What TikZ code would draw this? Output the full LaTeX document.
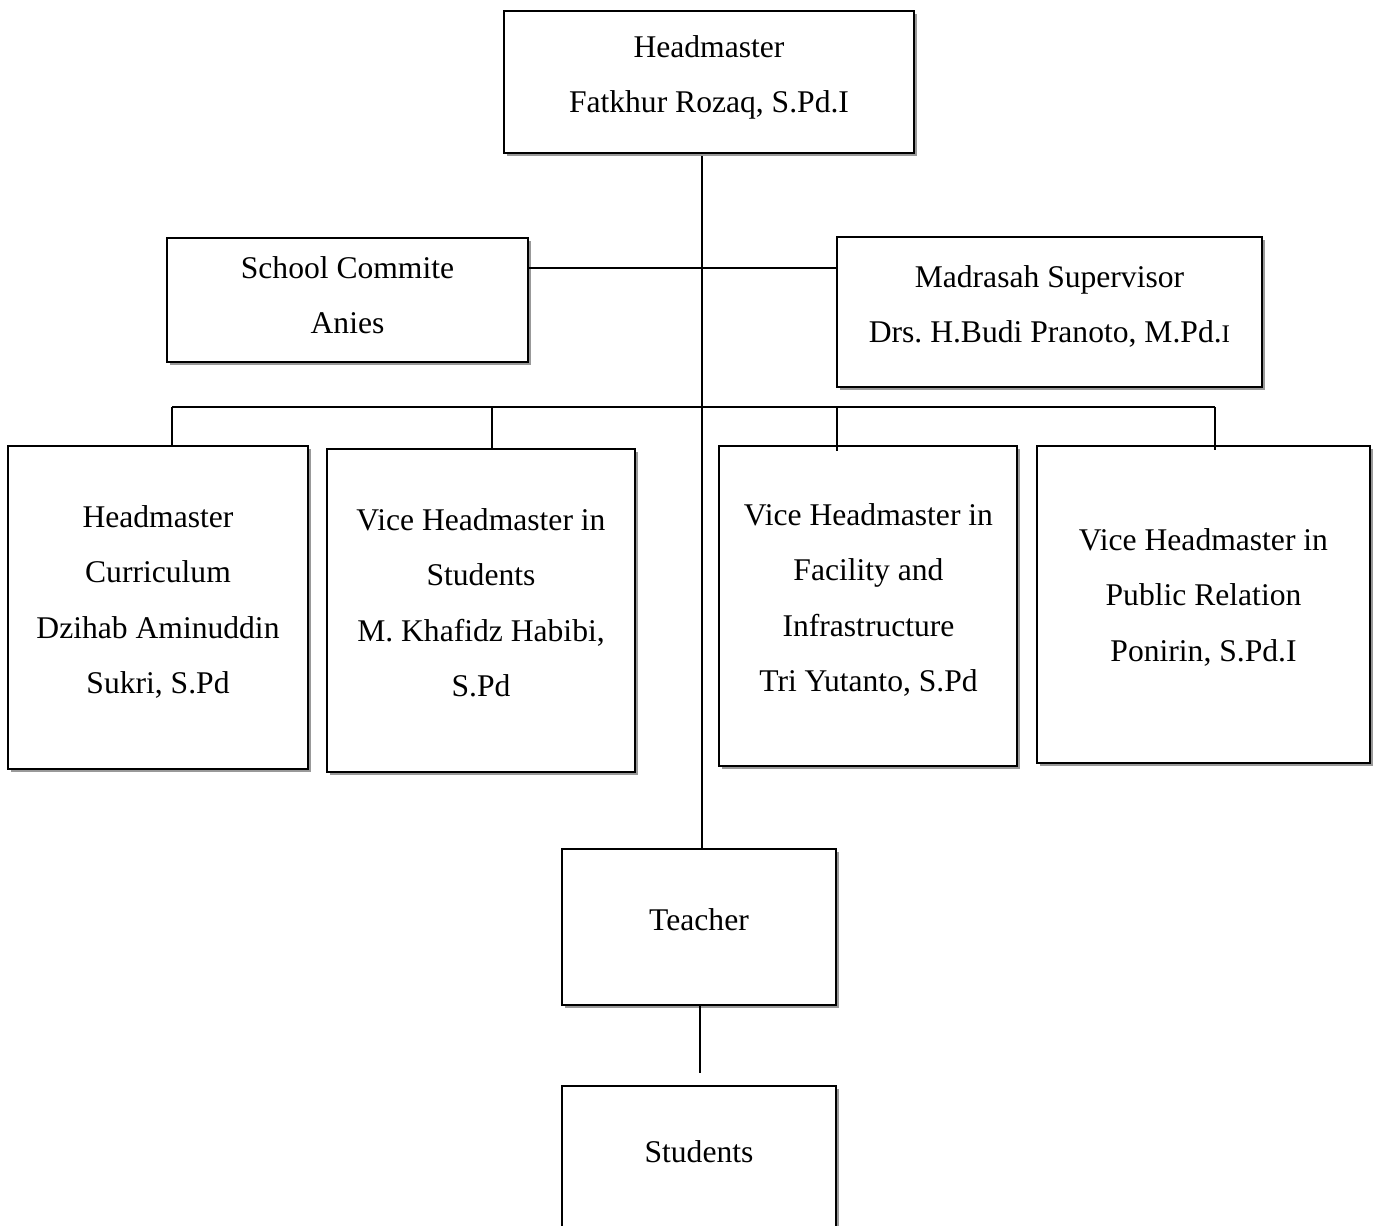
\documentclass[tikz,border=0pt]{standalone}
\usepackage{fontspec}
\setmainfont{Liberation Serif}
\usetikzlibrary{fit,shadows}
\frenchspacing
\begin{document}
\begin{tikzpicture}[x=0.75pt,y=-0.75pt,
  box/.style={draw=black, line width=1.3pt, fill=white, inner sep=0pt,
    drop shadow={shadow xshift=2.4pt, shadow yshift=-2.4pt, fill=black!40, opacity=1}},
  txt/.style={anchor=north, inner sep=0pt, align=center,
    font=\fontsize{23.7}{41.6}\selectfont\frenchspacing},
  conn/.style={draw=black, line width=1.2pt}]
\useasboundingbox (0,0) rectangle (1375,1226);

% junction coordinates
\coordinate (spineTop) at (702,153);
\coordinate (spineBot) at (702,849);
\coordinate (scj) at (0,268);
\coordinate (b1) at (172,407);
\coordinate (b2) at (492,407);
\coordinate (b3) at (837,407);
\coordinate (b4) at (1215,407);
\coordinate (e3) at (837,451);
\coordinate (e4) at (1215,450);
\coordinate (tcs) at (700,1005);
\coordinate (tce) at (700,1073);

% connectors (drawn first, boxes on top)
\draw[conn] (spineTop) -- (spineBot);
\draw[conn] (b1) -- (b4);

% boxes
\node[box, fit={(504,11) (914,153)}] (hm) {};
\node[box, fit={(167,238) (528,362)}] (sc) {};
\node[box, fit={(837,237) (1262,387)}] (ms) {};
\node[box, fit={(8,446) (308,769)}] (vc) {};
\node[box, fit={(327,449) (635,772)}] (vs) {};
\node[box, fit={(719,446) (1017,766)}] (vf) {};
\node[box, fit={(1037,446) (1370,763)}] (vp) {};
\node[box, fit={(562,849) (836,1005)}] (tc) {};
\node[box, fit={(562,1086) (836,1250)}] (st) {};

% connectors between boxes
\draw[conn] (sc.east |- scj) -- (ms.west |- scj);
\draw[conn] (b1) -- (b1 |- vc.north);
\draw[conn] (b2) -- (b2 |- vs.north);
\draw[conn] (b3) -- (e3);
\draw[conn] (b4) -- (e4);
\draw[conn] (tcs) -- (tce);

% texts
\node[txt] (hmT) at (709,35.3) {Headmaster\\Fatkhur Rozaq, S.Pd.I};
\node[txt] (scT) at (347.5,256.3) {School Commite\\Anies};
\node[txt] (msT) at (1049.5,265.3) {Madrasah Supervisor\\Drs. H.Budi Pranoto, M.Pd.{\fontsize{19}{19}\selectfont I}};
\node[txt] (vcT) at (158,505.3) {Headmaster\\Curriculum\\Dzihab Aminuddin\\Sukri, S.Pd};
\node[txt] (vsT) at (481,508.3) {Vice Headmaster in\\Students\\M. Khafidz Habibi,\\S.Pd};
\node[txt] (vfT) at (868.5,503.3) {Vice Headmaster in\\Facility and\\Infrastructure\\Tri Yutanto, S.Pd};
\node[txt] (vpT) at (1203.5,528.3) {Vice Headmaster in\\Public Relation\\Ponirin, S.Pd.I};
\node[txt] (tcT) at (699,908.3) {Teacher};
\node[txt] (stT) at (699,1140.3) {Students};
\end{tikzpicture}
\end{document}
